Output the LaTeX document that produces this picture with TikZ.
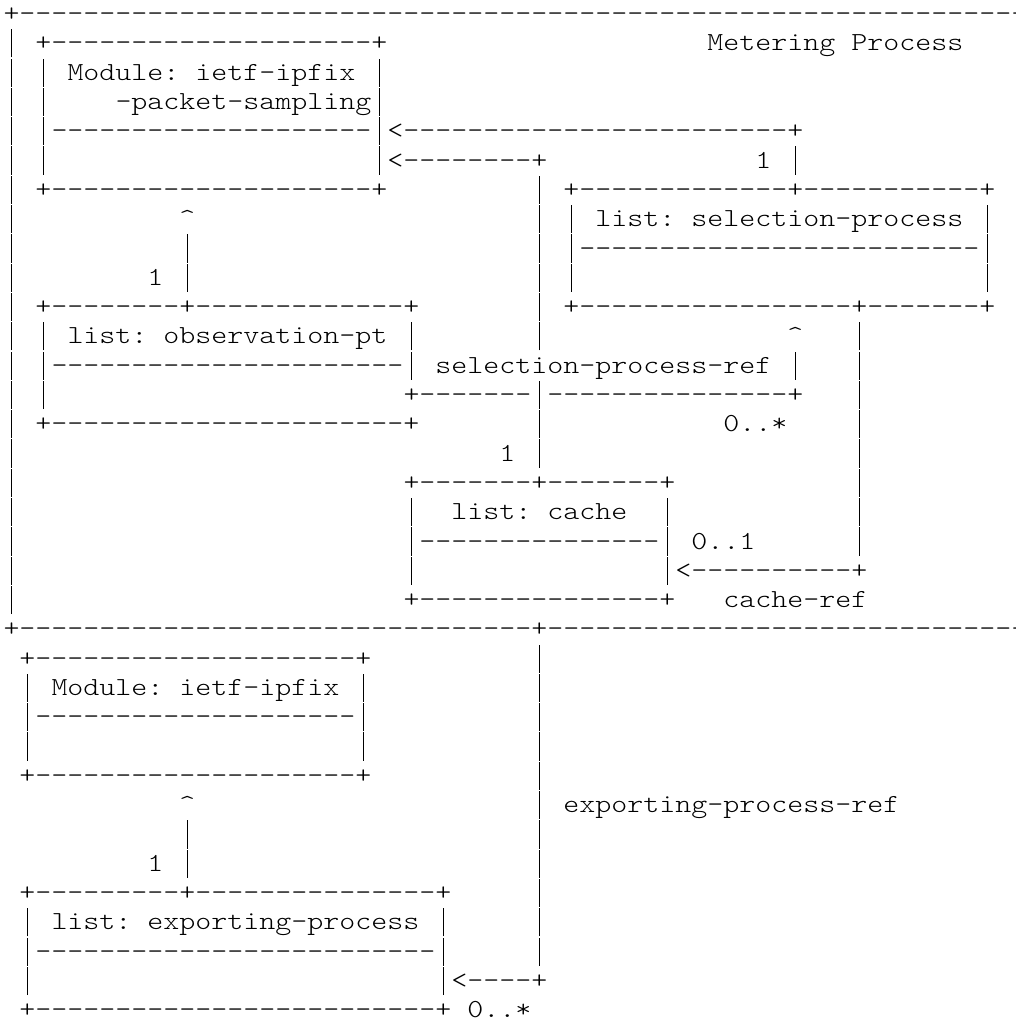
\documentclass[tikz,border=0pt]{standalone}
\usepackage{fontspec}
\setmonofont{lmmonolt10-regular}[Extension=.otf, FakeStretch=1.172]
\ExplSyntaxOn
\cs_new:Npn \rpt #1#2 { \prg_replicate:nn {#1} {#2} }
\ExplSyntaxOff
% the character grid: every cell is 16pt wide, every line 29.3pt high
\newcommand\asciifont{\ttfamily\fontsize{26pt}{29.3pt}\selectfont
  \fontdimen2\font=16pt\fontdimen3\font=0pt\fontdimen4\font=0pt\relax}
% runs of blanks and of dashes
\newcommand\blanks[1]{\rpt{#1}{~}}
\newcommand\dashes[1]{\rpt{#1}{-}}
\newcommand\caret{\textasciicircum}
% a vertical bar filling its whole cell, so that bars join from line to line
\newcommand\vb{\makebox[16pt]{\rule[-6.5pt]{1.6pt}{28.2pt}}}
\tikzset{
  asciirow/.style={anchor=base west, inner sep=0pt, outer sep=0pt,
    font=\asciifont, text=black}
}
% one line of the character drawing: #1 = line number, #2 = its characters
\newcommand\asciiline[2]{\node[asciirow] (row#1) at (3.5,{-21.6-29.3*#1}) {#2};}
\begin{document}
\frenchspacing
\begin{tikzpicture}[x=1pt,y=1pt]
\fill[white] (0,0) rectangle (1016,-1020);
\clip (0,0) rectangle (1016,-1020);
% Metering Process
\asciiline{0}{+\dashes{66}}
\asciiline{1}{\vb~+\dashes{20}+\blanks{20}Metering~Process}
\asciiline{2}{\vb~\vb~Module:~ietf-ipfix~\vb}
\asciiline{3}{\vb~\vb\blanks{4}-packet-sampling\vb}
\asciiline{4}{\vb~\vb\dashes{20}\vb<\dashes{24}+}
\asciiline{5}{\vb~\vb\blanks{20}\vb<\dashes{8}+\blanks{13}1~\vb}
\asciiline{6}{\vb~+\dashes{20}+\blanks{9}\vb~+\dashes{13}+\dashes{11}+}
\asciiline{7}{\vb\blanks{10}\caret\blanks{21}\vb~\vb~list:~selection-process~\vb}
\asciiline{8}{\vb\blanks{10}\vb\blanks{21}\vb~\vb\dashes{25}\vb}
\asciiline{9}{\vb\blanks{8}1~\vb\blanks{21}\vb~\vb\blanks{25}\vb}
\asciiline{10}{\vb~+\dashes{8}+\dashes{13}+\blanks{7}\vb~+\dashes{17}+\dashes{7}+}
\asciiline{11}{\vb~\vb~list:~observation-pt~\vb\blanks{7}\vb\blanks{15}\caret\blanks{3}\vb}
\asciiline{12}{\vb~\vb\dashes{22}\vb~selection-process-ref~\vb\blanks{3}\vb}
\asciiline{13}{\vb~\vb\blanks{22}+\dashes{7}\vb\dashes{15}+\blanks{3}\vb}
\asciiline{14}{\vb~+\dashes{22}+\blanks{7}\vb\blanks{11}0..*\blanks{4}\vb}
\asciiline{15}{\vb\blanks{30}1~\vb\blanks{19}\vb}
\asciiline{16}{\vb\blanks{24}+\dashes{7}+\dashes{7}+\blanks{11}\vb}
\asciiline{17}{\vb\blanks{24}\vb~~list:~cache~~\vb\blanks{11}\vb}
\asciiline{18}{\vb\blanks{24}\vb\dashes{15}\vb~0..1\blanks{6}\vb}
\asciiline{19}{\vb\blanks{24}\vb\blanks{15}\vb<\dashes{10}+}
\asciiline{20}{\vb\blanks{24}+\dashes{15}+\blanks{3}cache-ref}
\asciiline{21}{+\dashes{32}+\dashes{33}}
% ietf-ipfix module and exporting process
\asciiline{22}{~+\dashes{20}+\blanks{10}\vb}
\asciiline{23}{~\vb~Module:~ietf-ipfix~\vb\blanks{10}\vb}
\asciiline{24}{~\vb\dashes{20}\vb\blanks{10}\vb}
\asciiline{25}{~\vb\blanks{20}\vb\blanks{10}\vb}
\asciiline{26}{~+\dashes{20}+\blanks{10}\vb}
\asciiline{27}{\blanks{11}\caret\blanks{21}\vb~exporting-process-ref}
\asciiline{28}{\blanks{11}\vb\blanks{21}\vb}
\asciiline{29}{\blanks{9}1~\vb\blanks{21}\vb}
\asciiline{30}{~+\dashes{9}+\dashes{15}+\blanks{5}\vb}
\asciiline{31}{~\vb~list:~exporting-process~\vb\blanks{5}\vb}
\asciiline{32}{~\vb\dashes{25}\vb\blanks{5}\vb}
\asciiline{33}{~\vb\blanks{25}\vb<\dashes{4}+}
\asciiline{34}{~+\dashes{25}+~0..*}
\end{tikzpicture}
\end{document}
